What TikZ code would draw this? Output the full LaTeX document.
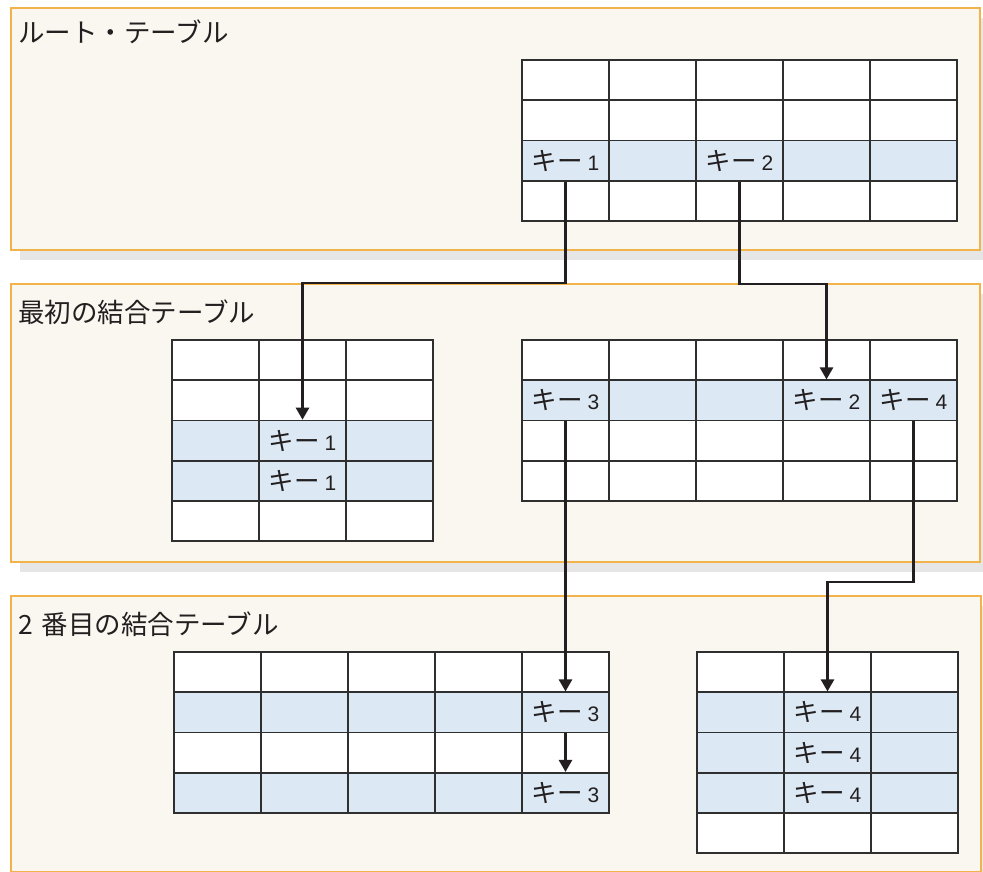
\documentclass[tikz,border=0pt]{standalone}
\usepackage{fontspec}
\setmainfont{Liberation Sans}
\newfontfamily\jp{Noto Sans CJK JP}
\usetikzlibrary{arrows.meta}
\definecolor{panelfill}{HTML}{FAF7F0}
\definecolor{panelline}{HTML}{F2B34A}
\definecolor{shadowgray}{HTML}{E6E6E6}
\definecolor{hlblue}{HTML}{DCE9F4}
\definecolor{gridline}{HTML}{2F2F2F}
\definecolor{ink}{HTML}{231F20}
\tikzset{
  panel/.style={draw=panelline, line width=1.6pt, fill=panelfill, anchor=north west, inner sep=0pt,
    preaction={draw=none, fill=shadowgray, transform canvas={shift={(9pt,-10pt)}}}},
  cell/.style={draw=gridline, line width=1.6pt, minimum width=87pt, minimum height=40.25pt, inner sep=0pt},
  ctitle/.style={anchor=west, inner sep=0pt, text=ink, font=\jp\fontsize{26.5}{26.5}\selectfont},
  keytxt/.style={inner sep=0pt, text=ink},
  arr/.style={draw=ink, line width=2.5pt, -{Triangle[width=13pt,length=12pt]}},
}
\newcommand{\mktable}[5]{%
  \foreach \f [count=\r] in {#5}{
    \foreach \c in {1,...,#4}{
      \node[cell, fill=\f] (#1-\r-\c) at ({#2+(\c-0.5)*87}, {#3+(\r-0.5)*40.25}) {};
    }
  }
}
\newcommand{\kk}[1]{{\jp\fontsize{25.5}{25.5}\selectfont キー}\hspace{5pt}{\fontsize{21}{21}\selectfont #1}}
\begin{document}
\begin{tikzpicture}[x=1pt,y=-1pt]
\useasboundingbox (0,0) rectangle (983,872);
\begin{scope}
\clip (0,0) rectangle (983,872);
\node[panel, minimum width=969pt, minimum height=242pt] (p1) at (10,7) {};
\node[panel, minimum width=969pt, minimum height=278pt] (p2) at (10,283) {};
\node[panel, minimum width=970pt, minimum height=276pt] (p3) at (10,595) {};
\end{scope}

\node[ctitle] (t1) at (18,32) {ルート・テーブル};
\node[ctitle] (t2) at (18,312) {最初の結合テーブル};
\node[ctitle] (t3) at (18,624) {2\hspace{9pt}番目の結合テーブル};

% tables
\mktable{r}{522}{60}{5}{white,white,hlblue,white}
\mktable{a}{172}{340}{3}{white,white,hlblue,hlblue,white}
\mktable{b}{522}{340}{5}{white,hlblue,white,white}
\mktable{c}{174}{652}{5}{white,hlblue,white,hlblue}
\mktable{d}{697}{652}{3}{white,hlblue,hlblue,hlblue,white}

% key labels
\node[keytxt] (k1) at (r-3-1) {\kk{1}};
\node[keytxt] (k2) at (r-3-3) {\kk{2}};
\node[keytxt] (k3) at (a-3-2) {\kk{1}};
\node[keytxt] (k4) at (a-4-2) {\kk{1}};
\node[keytxt] (k5) at (b-2-1) {\kk{3}};
\node[keytxt] (k6) at (b-2-4) {\kk{2}};
\node[keytxt] (k7) at (b-2-5) {\kk{4}};
\node[keytxt] (k8) at (c-2-5) {\kk{3}};
\node[keytxt] (k9) at (c-4-5) {\kk{3}};
\node[keytxt] (k10) at (d-2-2) {\kk{4}};
\node[keytxt] (k11) at (d-3-2) {\kk{4}};
\node[keytxt] (k12) at (d-4-2) {\kk{4}};

% connectors
\coordinate (bend1) at (0,283);
\coordinate (bend2) at (0,284);
\coordinate (bend4) at (0,582);
\draw[arr] (r-3-1.south) -- (r-3-1.south |- bend1) -- (a-3-2.north |- bend1) -- (a-3-2.north);
\draw[arr] (r-3-3.south) -- (r-3-3.south |- bend2) -- (b-2-4.north |- bend2) -- (b-2-4.north);
\draw[arr] (b-2-1.south) -- (b-2-1.south |- c-2-5.north);
\draw[arr] (b-2-5.south) -- (b-2-5.south |- bend4) -- (d-2-2.north |- bend4) -- (d-2-2.north);
\draw[arr] (c-2-5.south) -- (c-4-5.north);
\end{tikzpicture}
\end{document}
